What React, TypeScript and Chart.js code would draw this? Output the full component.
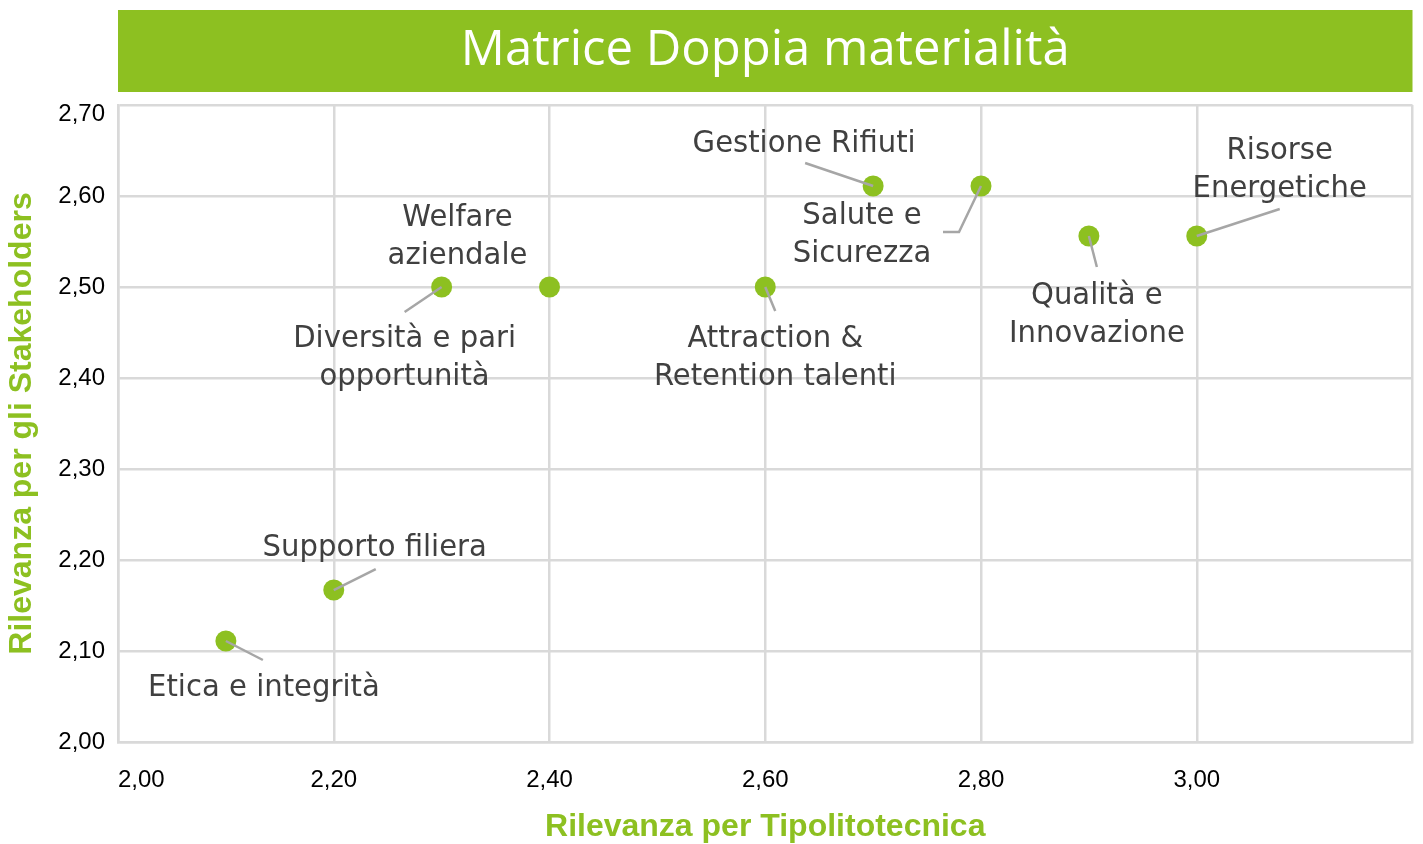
import React, { useEffect, useRef } from 'react';
import { Chart, registerables } from 'chart.js';

Chart.register(...registerables);

const TITLE = 'Matrice Doppia materialità';
const X_AXIS_TITLE = 'Rilevanza per Tipolitotecnica';
const Y_AXIS_TITLE = 'Rilevanza per gli Stakeholders';

const TOPICS = [
  'Etica e integrità',
  'Supporto filiera',
  'Diversità e pari opportunità',
  'Welfare aziendale',
  'Attraction & Retention talenti',
  'Gestione Rifiuti',
  'Salute e Sicurezza',
  'Qualità e Innovazione',
  'Risorse Energetiche',
];
const LABEL_LINES = [
  ['Etica e integrità'],
  ['Supporto filiera'],
  ['Diversità e pari', 'opportunità'],
  ['Welfare', 'aziendale'],
  ['Attraction &', 'Retention talenti'],
  ['Gestione Rifiuti'],
  ['Salute e', 'Sicurezza'],
  ['Qualità e', 'Innovazione'],
  ['Risorse', 'Energetiche'],
];
const RILEVANZA_AZIENDA = [2.1, 2.2, 2.3, 2.4, 2.6, 2.7, 2.8, 2.9, 3.0];
const RILEVANZA_STAKEHOLDER = [2.111, 2.167, 2.5, 2.5, 2.5, 2.611, 2.611, 2.556, 2.556];

const X_TICK_LABELS = ['2,00', '2,20', '2,40', '2,60', '2,80', '3,00'];
const Y_TICK_LABELS = ['2,00', '2,10', '2,20', '2,30', '2,40', '2,50', '2,60', '2,70'];

// label placement (pixel offsets from each point): text anchor + leader path
const LABEL_LAYOUT = [
  { dx: 38, dy: 55, path: [[37, 19]] },
  { dx: 41, dy: -34, path: [[42, -21]] },
  { dx: -37, dy: 60, path: [[-37, 25]] },
  { dx: -92, dy: -61, path: [] },
  { dx: 10, dy: 60, path: [[10, 24]] },
  { dx: -69, dy: -34, path: [[-68, -23]] },
  { dx: -119, dy: 38, path: [[-22, 46], [-38, 46]] },
  { dx: 8, dy: 68, path: [[8, 31]] },
  { dx: 83, dy: -77, path: [[83, -27]] },
];

const GREEN = '#8DC021';
const GRID = '#d9d9d9';
const LABEL_COLOR = '#404040';
const LEADER = '#a6a6a6';

const bannerPlugin = {
  id: 'banner',
  beforeDraw(chart: any) {
    const { ctx, chartArea } = chart;
    ctx.save();
    ctx.fillStyle = GREEN;
    ctx.fillRect(chartArea.left, 10, chartArea.right - chartArea.left, 82);
    ctx.fillStyle = '#ffffff';
    ctx.font = '50px "Open Sans"';
    ctx.textAlign = 'center';
    ctx.textBaseline = 'alphabetic';
    ctx.translate((chartArea.left + chartArea.right) / 2, 65);
    ctx.scale(0.98, 1);
    ctx.fillText(TITLE, 0, 0);
    ctx.restore();
  },
};

const labelPlugin = {
  id: 'pointLabels',
  afterDatasetsDraw(chart: any) {
    const { ctx } = chart;
    const meta = chart.getDatasetMeta(0);
    ctx.save();
    meta.data.forEach((pt: any, i: number) => {
      const lay = LABEL_LAYOUT[i];
      const x = pt.x;
      const y = pt.y;
      if (lay.path.length) {
        ctx.strokeStyle = LEADER;
        ctx.lineWidth = 2.5;
        ctx.beginPath();
        ctx.moveTo(x, y);
        lay.path.forEach((p: number[]) => ctx.lineTo(x + p[0], y + p[1]));
        ctx.stroke();
      }
      ctx.fillStyle = LABEL_COLOR;
      ctx.font = '30px "DejaVu Sans"';
      ctx.textAlign = 'center';
      ctx.textBaseline = 'alphabetic';
      LABEL_LINES[i].forEach((line, k) => {
        ctx.save();
        ctx.translate(x + lay.dx, y + lay.dy + k * 38);
        ctx.scale(0.97, 1);
        ctx.fillText(line, 0, 0);
        ctx.restore();
      });
    });
    ctx.restore();
  },
};

export default function App() {
  const ref = useRef<HTMLCanvasElement | null>(null);

  useEffect(() => {
    document.body.style.margin = '0';
    const canvas = ref.current;
    if (!canvas) return;
    const chart = new Chart(canvas, {
      type: 'scatter',
      data: {
        datasets: [
          {
            label: 'Temi materiali',
            data: TOPICS.map((t, i) => ({ x: RILEVANZA_AZIENDA[i], y: RILEVANZA_STAKEHOLDER[i] })),
            backgroundColor: GREEN,
            borderWidth: 0,
            pointRadius: 10.5,
            pointHoverRadius: 10.5,
          },
        ],
      },
      options: {
        animation: false,
        responsive: false,
        layout: { padding: { top: 105, right: 6, left: 0, bottom: 0 } },
        plugins: {
          legend: { display: false },
          tooltip: { enabled: false },
          title: { display: false },
        },
        scales: {
          x: {
            type: 'linear',
            min: 2.0,
            max: 3.2,
            afterFit: (s: any) => {
              s.height = 102;
              s.paddingLeft = 0;
              s.paddingRight = 0;
            },
            ticks: {
              stepSize: 0.2,
              autoSkip: false,
              align: 'inner',
              padding: 0,
              color: '#000',
              font: { family: '"Liberation Sans", Arial', size: 24 },
              callback: (_v: any, i: number) => X_TICK_LABELS[i] ?? '',
            },
            grid: { color: GRID, lineWidth: 2.5, drawTicks: true, tickLength: 24, tickColor: 'rgba(0,0,0,0)' },
            border: { color: GRID, width: 2.5 },
            title: {
              display: true,
              text: X_AXIS_TITLE,
              color: GREEN,
              font: { family: '"Liberation Sans", Arial', size: 32, weight: 'bold', lineHeight: 1.0 },
              padding: { top: 0, bottom: 1 },
            },
          },
          y: {
            type: 'linear',
            min: 2.0,
            max: 2.7,
            afterFit: (s: any) => {
              s.width = 118;
              s.paddingLeft = 0;
              s.paddingRight = 0;
            },
            ticks: {
              stepSize: 0.1,
              autoSkip: false,
              padding: 13,
              color: '#000',
              font: { family: '"Liberation Sans", Arial', size: 24, lineHeight: 0.8 },
              callback: (_v: any, i: number) => {
                const t = Y_TICK_LABELS[i] ?? '';
                return i === Y_TICK_LABELS.length - 1 ? ['', t] : t;
              },
            },
            grid: { color: GRID, lineWidth: 2.5, drawTicks: false },
            border: { color: GRID, width: 2.5 },
            title: {
              display: true,
              text: Y_AXIS_TITLE,
              color: GREEN,
              font: { family: '"Liberation Sans", Arial', size: 32, weight: 'bold', lineHeight: 1.0 },
              padding: { top: 6, bottom: 0 },
            },
          },
        },
      },
      plugins: [bannerPlugin, labelPlugin],
    } as any);
    return () => chart.destroy();
  }, []);

  return (
    <div style={{ width: 1423, height: 844 }}>
      <canvas ref={ref} width={1423} height={844} style={{ display: 'block' }} />
    </div>
  );
}
